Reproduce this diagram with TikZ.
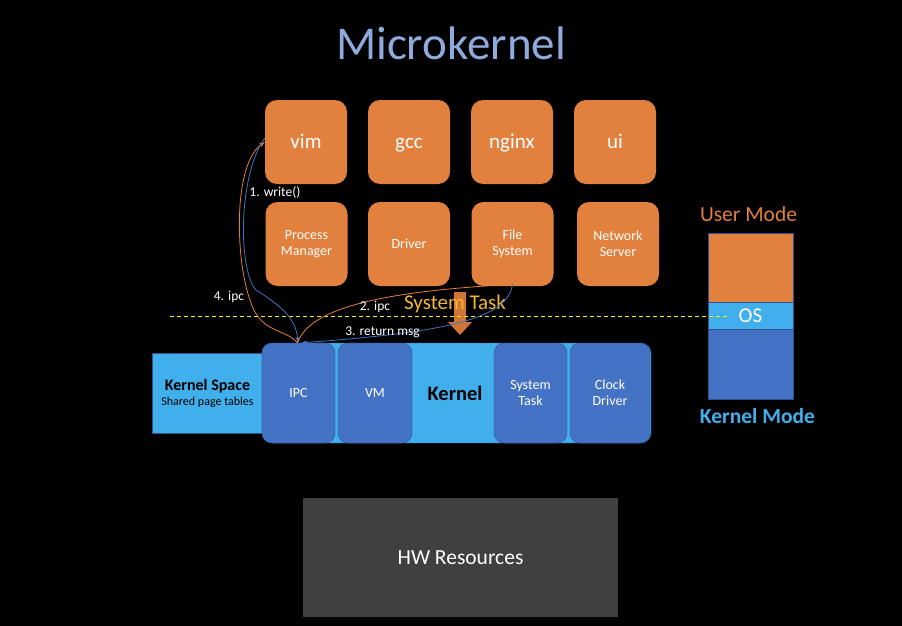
\documentclass[tikz,border=0pt]{standalone}
\usepackage{fontspec}
\setmainfont{Carlito}
\usetikzlibrary{arrows.meta}

\definecolor{appor}{RGB}{226,128,61}
\definecolor{kdark}{RGB}{68,114,196}
\definecolor{klight}{RGB}{65,175,235}
\definecolor{kedge}{RGB}{47,82,143}
\definecolor{titleblue}{RGB}{143,170,220}
\definecolor{taskgold}{RGB}{242,183,45}
\definecolor{hwgray}{RGB}{64,64,64}

\newcommand{\fs}[1]{\fontsize{#1}{#1}\selectfont}

\tikzset{
  appbox/.style={fill=appor,rounded corners=12pt,minimum width=82pt,minimum height=84pt,
    text=white,align=center,inner sep=0pt},
  progbox/.style={appbox,font=\fs{21},text height=15pt,text depth=2pt},
  kbox/.style={fill=kdark,draw=kedge,rounded corners=10pt,minimum width=73pt,minimum height=100pt,
    text=white,align=center,inner sep=0pt,font=\fs{14}},
  lbl/.style={text=white,inner sep=0pt,font=\fs{13.5}},
  ocurve/.style={draw=appor,line width=0.8pt,-{Stealth[length=6pt,width=4pt]}},
  bcurve/.style={draw=kdark,line width=0.8pt,-{Stealth[length=6pt,width=4pt]}}
}

\begin{document}
\begin{tikzpicture}[x=1pt,y=-1pt]
	% background and size
	\fill[black] (0,0) rectangle (902,626);
	\useasboundingbox (0,0) rectangle (902,626);

	\node[text=titleblue,font=\fs{47}] (title) at (451,43) {Microkernel};

	% user space programs
	\node[progbox] (vim) at (306,142) {vim};
	\node[progbox] (gcc) at (409,142) {gcc};
	\node[progbox] (nginx) at (512,142) {nginx};
	\node[progbox] (ui) at (615,142) {ui};

	% servers
	\node[appbox,font=\fs{14}] (pm) at (306.5,244) {Process\\[2pt]Manager};
	\node[appbox,font=\fs{14}] (drv) at (409,244) {Driver};
	\node[appbox,font=\fs{14}] (fs) at (512.5,244) {File\\[2pt]System};
	\node[appbox,font=\fs{14}] (ns) at (618,244) {Network\\[2pt]Server};

	% kernel
	\node[fill=klight,draw=kedge,line width=0.4pt,minimum width=111pt,minimum height=80pt,
		inner sep=0pt,align=center] (kspace) at (207.5,393)
		{{\fs{16}\bfseries Kernel Space}\\[3pt]{\fs{12}Shared page tables}};
	\node[fill=klight,draw=kedge,line width=0.4pt,rounded corners=10pt,minimum width=389pt,
		minimum height=100pt,inner sep=0pt] (kernel) at (456.5,393) {};
	\node[font=\fs{20.5}\bfseries,text=black] (ktext) at (455,393) {Kernel};
	\node[kbox] (ipc) at (298.5,393) {IPC};
	\node[kbox,minimum width=74pt] (vm) at (375,393) {VM};
	\node[kbox] (systask) at (530.5,393) {System\\[2pt]Task};
	\node[kbox,minimum width=80pt] (clock) at (610,393) {Clock\\[2pt]Driver};

	% hardware
	\node[fill=hwgray,minimum width=315pt,minimum height=119pt,text=white,font=\fs{21.5}]
		(hw) at (460.5,557.5) {HW Resources};

	% mode column
	\node[fill=appor,draw=kedge,line width=0.4pt,minimum width=85pt,minimum height=69pt,
		inner sep=0pt] (umode) at (750.5,267.5) {};
	\node[fill=klight,draw=kedge,line width=0.4pt,minimum width=85pt,minimum height=27pt,
		inner sep=0pt,text=white,font=\fs{21}] (osband) at (750.5,315.5) {OS};
	\node[fill=kdark,draw=kedge,line width=0.4pt,minimum width=85pt,minimum height=70pt,
		inner sep=0pt] (kmode) at (750.5,364) {};
	\node[text=appor,font=\fs{21.5}] (utext) at (748.5,214) {User Mode};
	\node[text=klight,font=\fs{21.5}\bfseries] (kmtext) at (757.5,416) {Kernel Mode};

	% system task arrow
	\fill[appor,opacity=0.92] (454,292) -- (466,292) -- (466,322) -- (472,322) -- (460,335)
		-- (448,322) -- (454,322) -- cycle;
	\node[text=taskgold,font=\fs{21}] (sttext) at (455,304) {System Task};

	% user/kernel border
	\coordinate (bl) at (170,316);
	\coordinate (br) at (730,316);
	\draw[yellow,line width=0.8pt,dash pattern=on 4pt off 3pt] (bl) -- (br);

	% messages
	\draw[ocurve] ([xshift=-1pt]ipc.north) .. controls (285,328) and (260,334) .. (250,300)
		.. controls (236,262) and (232,165) .. (vim.west);
	\draw[bcurve] ([yshift=4pt]vim.west) .. controls (238,175) and (238,270) .. (256,290)
		.. controls (288,310) and (296,322) .. ([xshift=-0.5pt]ipc.north);
	\draw[ocurve] ([xshift=-1pt]ipc.north) .. controls (312,300) and (420,290) .. ([yshift=2pt]fs.south);
	\draw[bcurve] ([yshift=2pt]fs.south) .. controls (508,318) and (450,332) .. ([xshift=3pt]ipc.north);

	\node[lbl] (l1) at (275,192) {1. write()};
	\node[lbl] (l2) at (375,307) {2. ipc};
	\node[lbl] (l3) at (382.5,332) {3. return msg};
	\node[lbl] (l4) at (229,297) {4. ipc};
\end{tikzpicture}
\end{document}
